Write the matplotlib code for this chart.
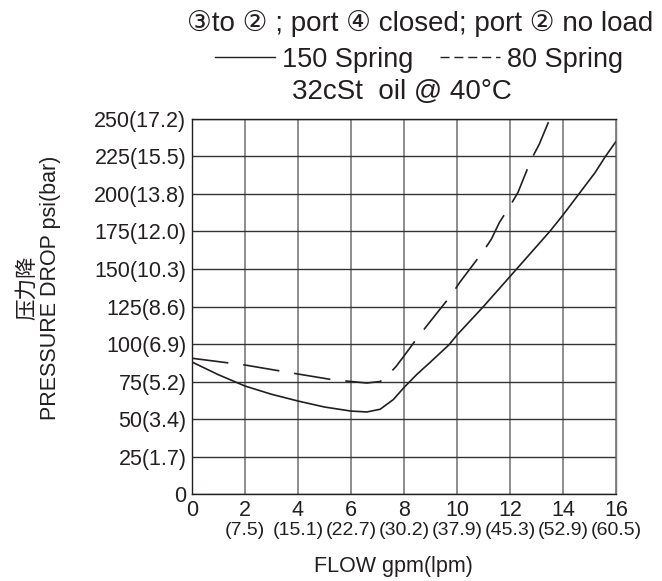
import matplotlib
matplotlib.use('Agg')
import matplotlib.pyplot as plt
from matplotlib.lines import Line2D

plt.rcParams['font.family'] = ['Liberation Sans', 'DejaVu Sans', 'Noto Sans CJK SC']

# 150 spring (solid)
solid_x = [0, 1, 2, 3, 4, 5, 6, 6.6, 7.1, 7.6, 8, 8.5, 9, 9.7, 10, 11, 12, 13, 13.5, 14, 14.6, 15.2, 15.6, 16]
solid_y = [88, 79.5, 72, 66.5, 62, 58, 55.3, 54.7, 56.5, 63, 71, 80, 88, 99.5, 106, 125, 145, 165, 175, 186, 200, 214, 225, 235]

# 80 spring (dashed)
dash_x = [0, 2, 4, 5.2, 6, 6.6, 7.1, 7.3, 7.7, 8, 8.5, 8.9, 9.8, 10.1, 11, 11.3, 11.6, 12, 12.3, 12.8, 13.1, 13.5]
dash_y = [90.5, 86, 80, 76.5, 75, 74, 75, 77.5, 85, 92, 104, 113, 133, 141, 162, 170, 181, 192, 201, 223, 233, 250]

x_ticks = [0, 2, 4, 6, 8, 10, 12, 14, 16]
x_lpm = ['', '(7.5)', '(15.1)', '(22.7)', '(30.2)', '(37.9)', '(45.3)', '(52.9)', '(60.5)']
y_ticks = [0, 25, 50, 75, 100, 125, 150, 175, 200, 225, 250]
y_labels = ['0', '25(1.7)', '50(3.4)', '75(5.2)', '100(6.9)', '125(8.6)', '150(10.3)',
            '175(12.0)', '200(13.8)', '225(15.5)', '250(17.2)']

ink = '#231f20'

fig = plt.figure(figsize=(6.62, 5.81), dpi=100)
ax = fig.add_axes([0.29, 0.1497, 0.6405, 0.6455])

ax.plot(solid_x, solid_y, color=ink, lw=1.2)
ax.plot(dash_x, dash_y, color=ink, lw=1.2, ls=(0, (22, 9)))

ax.set_xlim(0, 16)
ax.set_ylim(0, 250)
ax.set_xticks(x_ticks)
ax.set_xticklabels([str(t) for t in x_ticks])
ax.set_yticks(y_ticks)
ax.set_yticklabels(y_labels)
ax.tick_params(axis='both', length=0, labelsize=15.5, colors=ink)
ax.tick_params(axis='y', pad=4)
ax.tick_params(axis='x', pad=4)

ax.xaxis.grid(True, color='#7a7a7a', lw=1.2)
ax.yaxis.grid(True, color='#333333', lw=1.0)
for s in ax.spines.values():
    s.set_color(ink)
    s.set_linewidth(1.0)
ax.spines['right'].set_color('#7a7a7a')

sec = ax.secondary_xaxis('bottom')
sec.set_xticks(x_ticks)
sec.set_xticklabels(x_lpm)
sec.tick_params(length=0, labelsize=14, pad=20, colors=ink)
sec.spines['bottom'].set_visible(False)

ax.set_xlabel('FLOW gpm(lpm)', fontsize=15.5, color=ink)
ax.xaxis.set_label_coords(0.474, -0.165)
ax.set_ylabel('压力降\nPRESSURE DROP psi(bar)', fontsize=15.5, color=ink, linespacing=1.1)
ax.yaxis.set_label_coords(-0.31, 0.55)

fig.text(0.634, 0.96, '③to ② ; port ④ closed; port ② no load', ha='center', va='center',
         fontsize=20, color=ink)
fig.text(0.607, 0.842, '32cSt  oil @ 40°C', ha='center', va='center', fontsize=20, color=ink)

handles = [Line2D([], [], color=ink, lw=1.0),
           Line2D([], [], color=ink, lw=1.0, ls=(0, (6.5, 3.5)))]
fig.legend(handles, ['150 Spring', '80 Spring'], ncol=2, frameon=False, loc='center',
           bbox_to_anchor=(0.633, 0.897), fontsize=19.5, handlelength=2.2,
           handletextpad=0.25, columnspacing=1.0, borderpad=0, labelcolor=ink)

fig.savefig('out.png', dpi=100)
